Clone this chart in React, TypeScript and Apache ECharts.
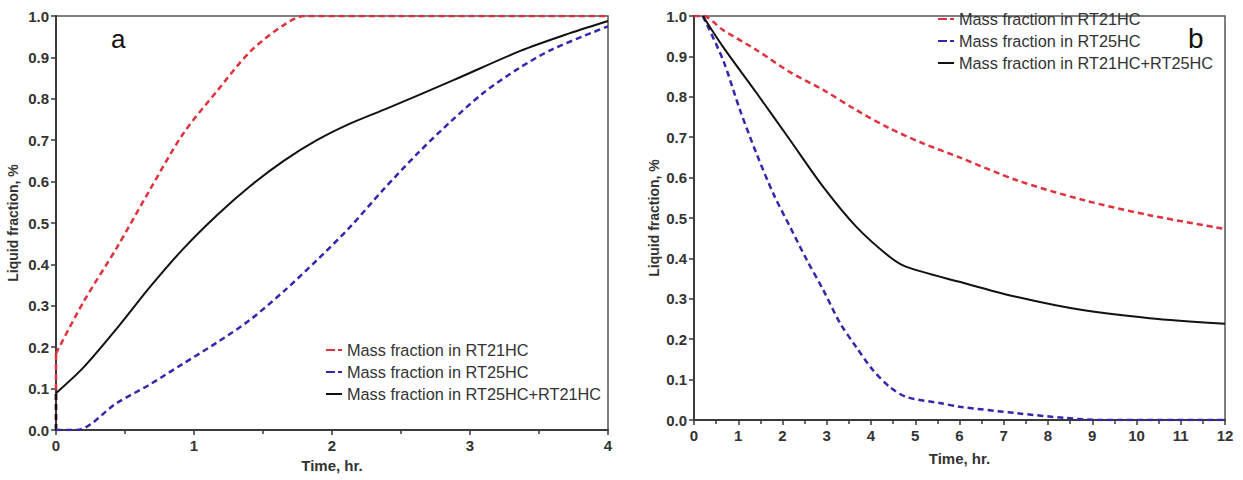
import React, { useEffect, useRef } from "react";
import * as echarts from "echarts";

const NAME_R21 = "Mass fraction in RT21HC";
const NAME_R25 = "Mass fraction in RT25HC";
const NAME_MIX_A = "Mass fraction in RT25HC+RT21HC";
const NAME_MIX_B = "Mass fraction in RT21HC+RT25HC";

const yTicksLabels = ["0.0", "0.1", "0.2", "0.3", "0.4", "0.5", "0.6", "0.7", "0.8", "0.9", "1.0"];

// Chart a: time (hr) vs liquid fraction
const redAStart: number[][] = [[0, 0], [0, 0.185]];
const redA: number[][] = [
  [0, 0.185], [0.2, 0.31], [0.44, 0.44], [0.68, 0.58], [0.92, 0.715],
  [1.17, 0.82], [1.41, 0.915], [1.65, 0.978], [1.8, 1.0], [2.5, 1.0], [4, 1.0],
];
const blueA: number[][] = [
  [0, 0], [0.15, 0], [0.44, 0.065], [0.68, 0.11], [0.92, 0.16], [1.17, 0.212],
  [1.41, 0.267], [1.65, 0.335], [1.89, 0.41], [2.13, 0.49], [2.37, 0.58],
  [2.62, 0.668], [2.86, 0.745], [3.1, 0.815], [3.36, 0.875], [3.6, 0.92], [4, 0.975],
];
const blackAStart: number[][] = [[0, 0], [0, 0.089]];
const blackA: number[][] = [
  [0, 0.089], [0.196, 0.15], [0.44, 0.245], [0.68, 0.345], [0.92, 0.437],
  [1.17, 0.52], [1.41, 0.59], [1.65, 0.65], [1.89, 0.7], [2.13, 0.74],
  [2.4, 0.777], [2.88, 0.845], [3.36, 0.915], [3.72, 0.958], [4, 0.988],
];

// Chart b
const redB: number[][] = [
  [0, 1], [0.2, 1], [0.66, 0.965], [1.41, 0.916], [2.17, 0.861], [2.92, 0.817],
  [3.67, 0.767], [4.42, 0.722], [5.17, 0.685], [6, 0.65], [7.28, 0.594],
  [8.78, 0.545], [10.29, 0.507], [12, 0.473],
];
const blackB: number[][] = [
  [0.2, 1], [0.66, 0.923], [1.41, 0.81], [2.17, 0.693], [2.92, 0.577],
  [3.67, 0.478], [4.42, 0.404], [4.8, 0.379], [6, 0.342], [7.28, 0.305],
  [8.78, 0.272], [10.29, 0.252], [12, 0.238],
];
const blueB: number[][] = [
  [0.2, 1], [0.66, 0.89], [1.04, 0.767], [1.41, 0.66], [1.79, 0.561], [2.17, 0.478],
  [2.55, 0.396], [2.92, 0.322], [3.3, 0.24], [3.67, 0.18], [4.04, 0.124],
  [4.42, 0.082], [4.8, 0.057], [5.55, 0.042], [6, 0.033], [7.28, 0.017],
  [8.4, 0.005], [9.2, 0], [12, 0],
];

const FONT = "'Liberation Sans', Arial, sans-serif";
const RED = "#e0323e";
const BLUE = "#3427ae";
const BLACK = "#111111";
const AXIS = "#3a3a3a";

const ICON_DASH = "path://M0,0 L9,0 L9,2 L0,2 Z M12,0 L16,0 L16,2 L12,2 Z";
const ICON_SOLID = "path://M0,0 L16,0 L16,2 L0,2 Z";

function xAxisCfg(gridIndex: number, max: number, nameGap: number) {
  return {
    type: "value",
    gridIndex,
    min: 0,
    max,
    interval: 1,
    name: "Time, hr.",
    nameLocation: "middle",
    nameGap,
    nameTextStyle: { fontFamily: FONT, fontWeight: "bold", fontSize: 15, color: "#333" },
    axisLine: { show: true, onZero: false, lineStyle: { color: AXIS, width: 2 } },
    axisTick: { show: true, inside: false, length: 5, lineStyle: { color: AXIS, width: 1.5 } },
    minorTick: { show: true, splitNumber: 2, length: 4, lineStyle: { color: AXIS, width: 1.5 } },
    axisLabel: { fontFamily: FONT, fontWeight: "bold", fontSize: 15, color: "#333", margin: 8 },
    splitLine: { show: false },
    minorSplitLine: { show: false },
  };
}

function yAxisCfg(gridIndex: number, nameGap: number) {
  return {
    type: "value",
    gridIndex,
    min: 0,
    max: 1,
    interval: 0.1,
    name: "Liquid fraction, %",
    nameLocation: "middle",
    nameGap,
    nameTextStyle: { fontFamily: FONT, fontWeight: "bold", fontSize: 14, color: "#333" },
    axisLine: { show: true, onZero: false, lineStyle: { color: AXIS, width: 2 } },
    axisTick: { show: true, inside: false, length: 5, lineStyle: { color: AXIS, width: 1.5 } },
    axisLabel: {
      fontFamily: FONT, fontWeight: "bold", fontSize: 15, color: "#333", margin: 7,
      formatter: (v: number) => yTicksLabels[Math.round(v * 10)] ?? v.toFixed(1),
    },
    splitLine: { show: false },
  };
}

function lineSeries(name: string | undefined, data: number[][], idx: number, color: string, dashed: boolean, smooth = 0.3) {
  return {
    type: "line",
    name,
    xAxisIndex: idx,
    yAxisIndex: idx,
    data,
    showSymbol: false,
    symbol: "none",
    smooth,
    lineStyle: { color, width: dashed ? 2.5 : 2, type: dashed ? [6, 4] : "solid" },
    itemStyle: { color },
    z: dashed ? 3 : 4,
  };
}

export default function App() {
  const ref = useRef<HTMLDivElement>(null);
  useEffect(() => {
    if (!ref.current) return;
    const chart = echarts.init(ref.current, undefined, { renderer: "svg" });
    const legendText = { fontFamily: FONT, fontSize: 16.3, color: "#333", lineHeight: 14 };
    const legendCommon = {
      orient: "vertical", itemWidth: 16, itemHeight: 2, itemGap: 6,
      textStyle: legendText, selectedMode: false,
    };
    chart.setOption({
      animation: false,
      backgroundColor: "#ffffff",
      grid: [
        { left: 56, top: 16, width: 552, height: 414, show: true, borderColor: "#555", borderWidth: 1.5, containLabel: false },
        { left: 694, top: 16, width: 531, height: 404, show: true, borderColor: "#555", borderWidth: 1.5, containLabel: false },
      ],
      xAxis: [xAxisCfg(0, 4, 28), xAxisCfg(1, 12, 31)],
      yAxis: [yAxisCfg(0, 36), yAxisCfg(1, 33)],
      legend: [
        {
          ...legendCommon, left: 321, top: 337,
          data: [
            { name: NAME_R21, icon: ICON_DASH },
            { name: NAME_R25, icon: ICON_DASH },
            { name: NAME_MIX_A, icon: ICON_SOLID },
          ],
        },
        {
          ...legendCommon, left: 933, top: 6,
          data: [
            { name: NAME_R21, icon: ICON_DASH },
            { name: NAME_R25, icon: ICON_DASH },
            { name: NAME_MIX_B, icon: ICON_SOLID },
          ],
        },
      ],
      graphic: [
        { type: "text", left: 111, top: 26, style: { text: "a", fontFamily: FONT, fontSize: 26, fill: "#111" } },
        { type: "text", left: 1188, top: 24, style: { text: "b", fontFamily: FONT, fontSize: 28, fill: "#111" } },
      ],
      series: [
        lineSeries(undefined, redAStart, 0, RED, true, 0),
        lineSeries(undefined, blackAStart, 0, BLACK, true, 0),
        lineSeries(NAME_R21, redA, 0, RED, true),
        lineSeries(NAME_R25, blueA, 0, BLUE, true),
        lineSeries(NAME_MIX_A, blackA, 0, BLACK, false),
        lineSeries(NAME_R21, redB, 1, RED, true),
        lineSeries(NAME_R25, blueB, 1, BLUE, true),
        lineSeries(NAME_MIX_B, blackB, 1, BLACK, false),
      ],
    });
    return () => chart.dispose();
  }, []);
  return (
    <div
      ref={ref}
      style={{ position: "absolute", left: 0, top: 0, width: 1243, height: 480 }}
    />
  );
}
